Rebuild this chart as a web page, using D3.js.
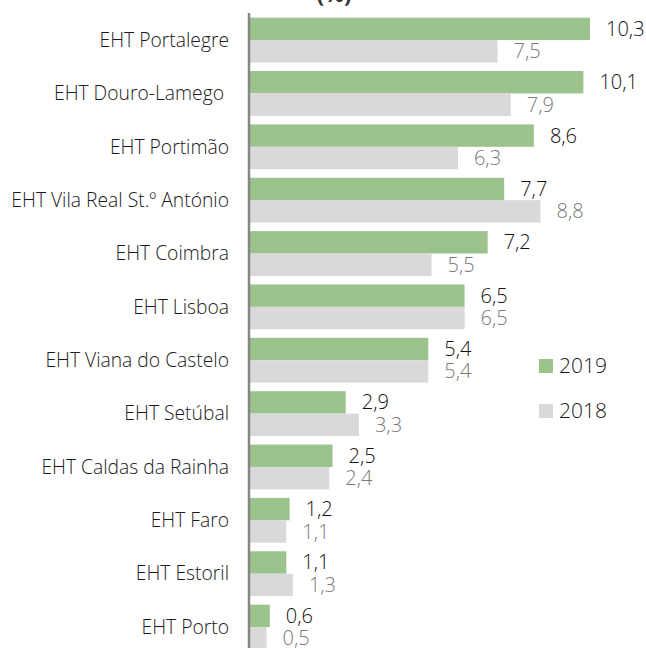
<!DOCTYPE html>
<html>
<head>
<meta charset="utf-8">
<script src="https://cdn.jsdelivr.net/npm/d3@7"></script>
<style>
  body { margin: 0; background: #fff; }
  svg text { font-family: "Open Sans", "Noto Sans", sans-serif; font-weight: 300; white-space: pre; }
</style>
</head>
<body>
<div id="chart"></div>
<script>
// Categories, top to bottom
const categories = [
    "EHT Portalegre", "EHT Douro-Lamego ", "EHT Portimão", "EHT Vila Real St.º António",
    "EHT Coimbra", "EHT Lisboa", "EHT Viana do Castelo", "EHT Setúbal",
    "EHT Caldas da Rainha", "EHT Faro", "EHT Estoril", "EHT Porto"
];
const values2019 = [10.3, 10.1, 8.6, 7.7, 7.2, 6.5, 5.4, 2.9, 2.5, 1.2, 1.1, 0.6];
const values2018 = [7.5, 7.9, 6.3, 8.8, 5.5, 6.5, 5.4, 3.3, 2.4, 1.1, 1.3, 0.5];
const seriesNames = ["2019", "2018"];
const colors = ["#9BC38B", "#D9D9D9"];
const labelColors = ["#111111", "#7a7a7a"];

const width = 646, height = 648;
const axisX = 250;

const svg = d3.select("#chart").append("svg")
    .attr("width", width)
    .attr("height", height);

// Title, mostly cut off by the top edge like in the source image
svg.append("text")
    .attr("x", 334)
    .attr("y", 2)
    .attr("text-anchor", "middle")
    .attr("font-size", "22px")
    .style("font-weight", "bold")
    .attr("fill", "#333")
    .text("(%)");

// Scales
const x = d3.scaleLinear()
    .domain([0, 10.3])
    .range([axisX, 590]);

const y = d3.scaleBand()
    .domain(categories)
    .range([13.4, 13.4 + 12 * 53.36])
    .paddingInner(0.16)
    .paddingOuter(0.08);

const ySub = d3.scaleBand()
    .domain(seriesNames)
    .range([0, y.bandwidth()]);

const data = categories.map((c, i) => ({
    cat: c,
    vals: [values2019[i], values2018[i]]
}));

const groups = svg.selectAll("g.cat")
    .data(data)
    .enter()
    .append("g")
    .attr("class", "cat")
    .attr("transform", d => `translate(0,${y(d.cat)})`);

seriesNames.forEach((s, k) => {
    groups.append("rect")
        .attr("x", axisX)
        .attr("y", ySub(s))
        .attr("width", d => x(d.vals[k]) - axisX)
        .attr("height", ySub.bandwidth())
        .attr("fill", colors[k]);

    groups.append("text")
        .attr("x", d => x(d.vals[k]) + 16)
        .attr("y", ySub(s) + ySub.bandwidth() / 2)
        .attr("dy", "0.35em")
        .attr("font-size", "20px")
        .attr("fill", labelColors[k])
        .text(d => d3.format(".1f")(d.vals[k]).replace(".", ","));
});

// Category labels
svg.append("g")
    .selectAll("text")
    .data(categories)
    .enter()
    .append("text")
    .attr("x", 229)
    .attr("y", d => y(d) + y.bandwidth() / 2)
    .attr("dy", "0.35em")
    .attr("text-anchor", "end")
    .attr("font-size", "19.3px")
    .attr("fill", "#1a1a1a")
    .text(d => d);

// Vertical axis line
svg.append("line")
    .attr("x1", axisX - 1)
    .attr("x2", axisX - 1)
    .attr("y1", 13)
    .attr("y2", height)
    .attr("stroke", "#868686")
    .attr("stroke-width", 2.5);

// Legend
const legend = svg.append("g")
    .selectAll("g")
    .data(seriesNames)
    .enter()
    .append("g")
    .attr("transform", (d, i) => `translate(539,${359 + i * 45})`);

legend.append("rect")
    .attr("width", 14)
    .attr("height", 14)
    .attr("fill", (d, i) => colors[i]);

legend.append("text")
    .attr("x", 20)
    .attr("y", 7)
    .attr("dy", "0.35em")
    .attr("font-size", "21px")
    .attr("fill", "#1a1a1a")
    .text(d => d);
</script>
</body>
</html>
